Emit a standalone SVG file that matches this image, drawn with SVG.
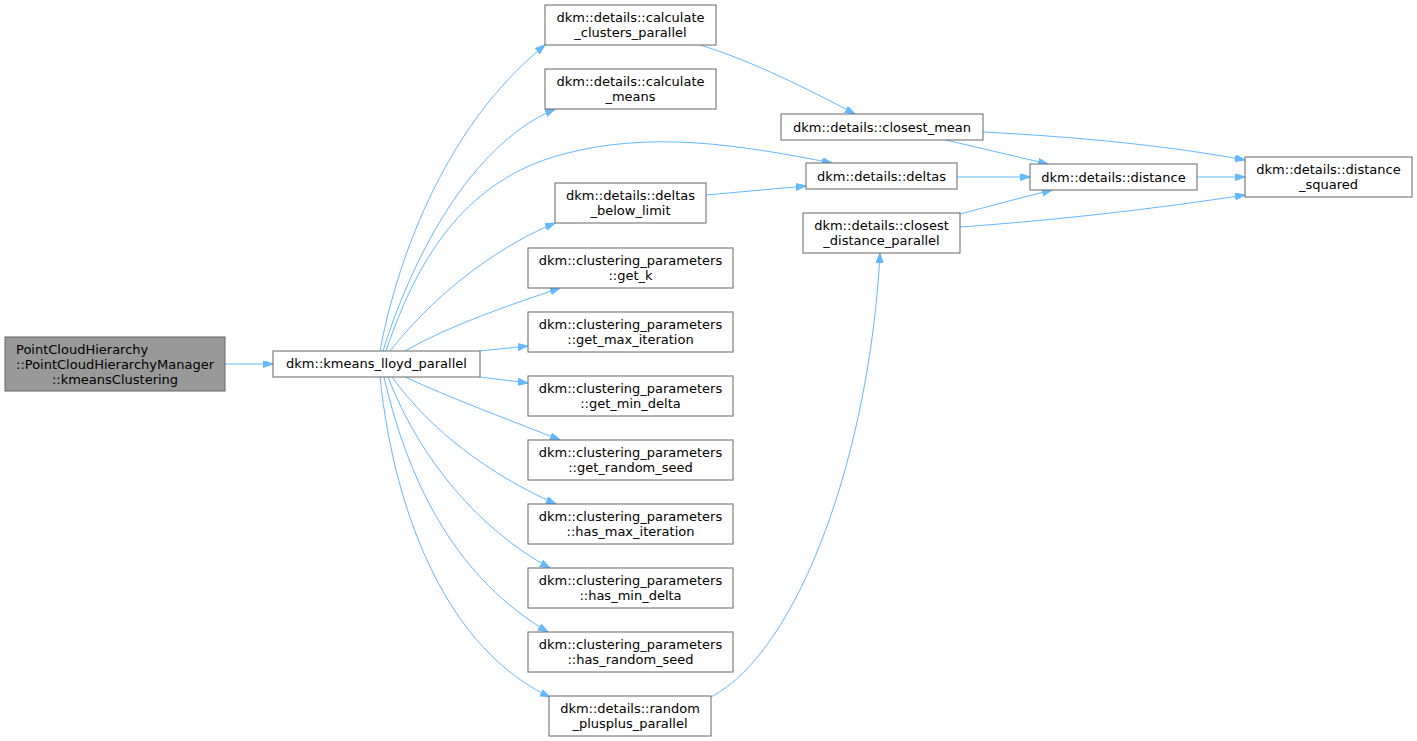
<svg xmlns="http://www.w3.org/2000/svg" width="1417" height="741" viewBox="0 0 1417 741">
<style>
.n rect{fill:#ffffff;stroke:#666666;stroke-width:1}
.n text{font-family:"DejaVu Sans",sans-serif;font-size:13px;fill:#000000;text-anchor:middle}
#edges path{fill:none;stroke:#63b8ff;stroke-width:1;marker-end:url(#arr)}
</style>
<defs>
<marker id="arr" markerUnits="userSpaceOnUse" markerWidth="11" markerHeight="8" refX="10" refY="3.5" orient="auto" viewBox="0 0 11 8">
<path d="M0,0 L10,3.5 L0,7 z" fill="#63b8ff" stroke="#63b8ff" stroke-width="1"/>
</marker>
</defs>
<rect width="1417" height="741" fill="#ffffff"/>
<g id="edges">
<path d="M225,364 L273,364"/>
<path d="M380,351 C395,270 440,130 545,45"/>
<path d="M383,351 C405,280 460,150 555,109"/>
<path d="M386,351 C420,250 470,180 560,155 C650,130 740,145 832,163"/>
<path d="M390,351 C430,300 490,250 555,223"/>
<path d="M405,351 C450,325 510,305 560,288"/>
<path d="M480,351 L528,346"/>
<path d="M480,377 L528,383"/>
<path d="M405,377 C450,398 510,420 560,440"/>
<path d="M392,377 C430,430 490,475 556,504"/>
<path d="M388,377 C420,460 480,530 550,568"/>
<path d="M384,377 C410,490 460,580 548,632"/>
<path d="M380,377 C395,520 450,650 550,697"/>
<path d="M711,697 C800,650 870,450 880,253"/>
<path d="M700,45 C750,60 810,90 855,114"/>
<path d="M706,195 L806,186"/>
<path d="M942,139 C975,147 1010,155 1048,164"/>
<path d="M983,132 C1080,137 1170,146 1245,160"/>
<path d="M957,177 L1030,177"/>
<path d="M1197,177 L1245,177"/>
<path d="M960,214 C990,206 1020,198 1052,190"/>
<path d="M960,227 C1060,220 1160,208 1245,195"/>
</g>
<g id="n1" class="n"><rect x="5" y="337" width="220" height="54" style="fill:#999999"/><text x="16" y="353.5" style="text-anchor:start">PointCloudHierarchy</text><text x="115" y="368.5">::PointCloudHierarchyManager</text><text x="115" y="383.5">::kmeansClustering</text></g>
<g id="n2" class="n"><rect x="273" y="351" width="207" height="26"/><text x="376.5" y="368">dkm::kmeans_lloyd_parallel</text></g>
<g id="n3" class="n"><rect x="545" y="5" width="171" height="40"/><text x="630.5" y="21.5">dkm::details::calculate</text><text x="630.5" y="36.5">_clusters_parallel</text></g>
<g id="n4" class="n"><rect x="545" y="69" width="171" height="40"/><text x="630.5" y="85.5">dkm::details::calculate</text><text x="630.5" y="100.5">_means</text></g>
<g id="n5" class="n"><rect x="555" y="183" width="151" height="40"/><text x="630.5" y="199.5">dkm::details::deltas</text><text x="630.5" y="214.5">_below_limit</text></g>
<g id="n6" class="n"><rect x="528" y="248" width="205" height="40"/><text x="630.5" y="264.5">dkm::clustering_parameters</text><text x="630.5" y="279.5">::get_k</text></g>
<g id="n7" class="n"><rect x="528" y="312" width="205" height="40"/><text x="630.5" y="328.5">dkm::clustering_parameters</text><text x="630.5" y="343.5">::get_max_iteration</text></g>
<g id="n8" class="n"><rect x="528" y="376" width="205" height="40"/><text x="630.5" y="392.5">dkm::clustering_parameters</text><text x="630.5" y="407.5">::get_min_delta</text></g>
<g id="n9" class="n"><rect x="528" y="440" width="205" height="40"/><text x="630.5" y="456.5">dkm::clustering_parameters</text><text x="630.5" y="471.5">::get_random_seed</text></g>
<g id="n10" class="n"><rect x="528" y="504" width="205" height="40"/><text x="630.5" y="520.5">dkm::clustering_parameters</text><text x="630.5" y="535.5">::has_max_iteration</text></g>
<g id="n11" class="n"><rect x="528" y="568" width="205" height="40"/><text x="630.5" y="584.5">dkm::clustering_parameters</text><text x="630.5" y="599.5">::has_min_delta</text></g>
<g id="n12" class="n"><rect x="528" y="632" width="205" height="40"/><text x="630.5" y="648.5">dkm::clustering_parameters</text><text x="630.5" y="663.5">::has_random_seed</text></g>
<g id="n13" class="n"><rect x="549" y="696" width="162" height="40"/><text x="630" y="712.5">dkm::details::random</text><text x="630" y="727.5">_plusplus_parallel</text></g>
<g id="n14" class="n"><rect x="781" y="114" width="202" height="26"/><text x="882" y="131.5">dkm::details::closest_mean</text></g>
<g id="n15" class="n"><rect x="806" y="163" width="151" height="26"/><text x="881.5" y="180.5">dkm::details::deltas</text></g>
<g id="n16" class="n"><rect x="803" y="213" width="157" height="40"/><text x="881.5" y="229.5">dkm::details::closest</text><text x="881.5" y="244.5">_distance_parallel</text></g>
<g id="n17" class="n"><rect x="1030" y="164" width="167" height="26"/><text x="1113.5" y="181.5">dkm::details::distance</text></g>
<g id="n18" class="n"><rect x="1245" y="157" width="167" height="40"/><text x="1328.5" y="173.5">dkm::details::distance</text><text x="1328.5" y="188.5">_squared</text></g>
</svg>
